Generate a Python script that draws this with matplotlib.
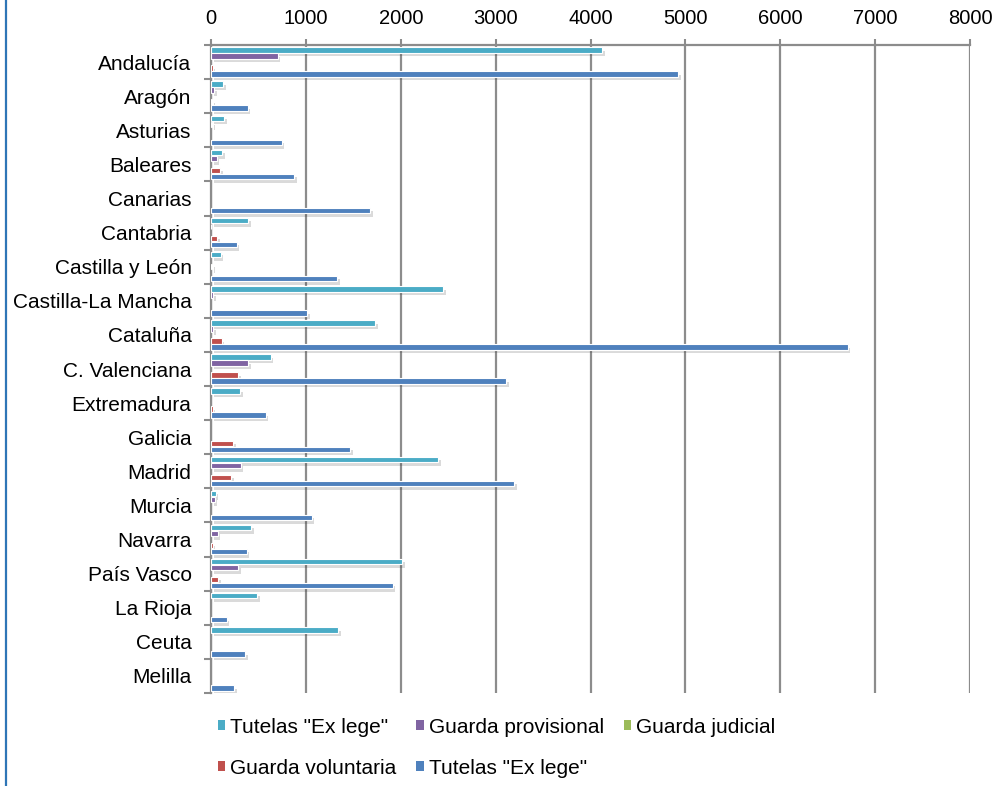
import matplotlib
matplotlib.use("Agg")
import matplotlib.pyplot as plt
import matplotlib.patheffects as pe
from matplotlib.patches import Patch
from matplotlib.lines import Line2D
import numpy as np

plt.rcParams['font.family'] = ['Liberation Sans', 'DejaVu Sans']

categories = ["Andalucía", "Aragón", "Asturias", "Baleares", "Canarias", "Cantabria",
              "Castilla y León", "Castilla-La Mancha", "Cataluña", "C. Valenciana",
              "Extremadura", "Galicia", "Madrid", "Murcia", "Navarra", "País Vasco",
              "La Rioja", "Ceuta", "Melilla"]

series_names = ['Tutelas "Ex lege"', 'Guarda provisional', 'Guarda judicial',
                'Guarda voluntaria', 'Tutelas "Ex lege"']

tutelas_a = [4120, 130, 137, 119, 0, 394, 102, 2449, 1729, 629, 306, 0, 2390, 49, 422, 2017, 489, 1336, 0]
guarda_prov = [703, 32, 10, 60, 0, 5, 0, 20, 25, 394, 0, 0, 313, 39, 70, 288, 0, 0, 0]
guarda_jud = [0, 0, 0, 0, 0, 0, 10, 0, 0, 0, 0, 0, 0, 0, 0, 0, 0, 0, 0]
guarda_vol = [18, 10, 0, 95, 0, 67, 0, 0, 113, 288, 18, 235, 211, 0, 18, 77, 0, 0, 0]
tutelas_b = [4927, 387, 745, 875, 1676, 271, 1332, 1016, 6709, 3110, 576, 1466, 3198, 1061, 376, 1915, 165, 359, 246]

colors = ['#4BACC6', '#8064A2', '#9BBB59', '#C0504D', '#4F81BD']
series = [tutelas_a, guarda_prov, guarda_jud, guarda_vol, tutelas_b]

fig = plt.figure(figsize=(10, 7.86), dpi=100)
ax = fig.add_axes([0.211, 0.1183, 0.759, 0.8244])

y = np.arange(len(categories))
pitch = 0.176
handles = []
for k, (vals, col, name) in enumerate(zip(series, colors, series_names)):
    off = (k - 2) * pitch
    vals = np.asarray(vals, dtype=float)
    mask = vals > 0
    bars = ax.barh(y[mask] + off, vals[mask], height=0.16, color=col, edgecolor='white',
                   linewidth=0.8, zorder=3)
    for b in bars:
        b.set_path_effects([pe.SimplePatchShadow(offset=(2, -2.5), alpha=0.18, shadow_rgbFace='#333333'),
                            pe.Normal()])
    handles.append(Patch(facecolor=col, edgecolor='none', label=name))

ax.set_xlim(0, 8000)
ax.set_ylim(len(categories) - 0.5, -0.5)
ax.set_xticks(np.arange(0, 8001, 1000))
ax.xaxis.tick_top()
ax.tick_params(axis='x', which='major', direction='out', length=4, width=1.5,
               color='#8c8c8c', labelsize=14.5, pad=8, labelcolor='black')

ax.set_yticks(np.arange(len(categories) + 1) - 0.5)
ax.set_yticklabels([])
ax.set_yticks(y, minor=True)
ax.set_yticklabels(categories, minor=True)
ax.tick_params(axis='y', which='major', direction='out', length=5, width=1.5, color='#8c8c8c')
ax.tick_params(axis='y', which='minor', length=0, labelsize=15, pad=14, labelcolor='black')

ax.grid(axis='x', color='#8c8c8c', linewidth=1.6, zorder=0)
ax.set_axisbelow(True)
for s in ['right', 'bottom']:
    ax.spines[s].set_visible(False)
for s in ['left', 'top']:
    ax.spines[s].set_color('#8c8c8c')
    ax.spines[s].set_linewidth(1.6)

order = [handles[0], handles[3], handles[1], handles[4], handles[2]]
labels = [h.get_label() for h in order]
leg = fig.legend(order, labels, ncol=3, loc='upper left',
                 bbox_to_anchor=(0.199, 1 - 699 / 786),
                 bbox_transform=fig.transFigure, frameon=False, fontsize=15,
                 handlelength=0.37, handleheight=0.37, handletextpad=0.22,
                 columnspacing=0.96, labelspacing=1.05)

fig.add_artist(Line2D([0.0058, 0.0058], [0, 1], transform=fig.transFigure,
                      color='#2E75B6', linewidth=1.6))

fig.savefig('out.png', dpi=100, facecolor='white')
